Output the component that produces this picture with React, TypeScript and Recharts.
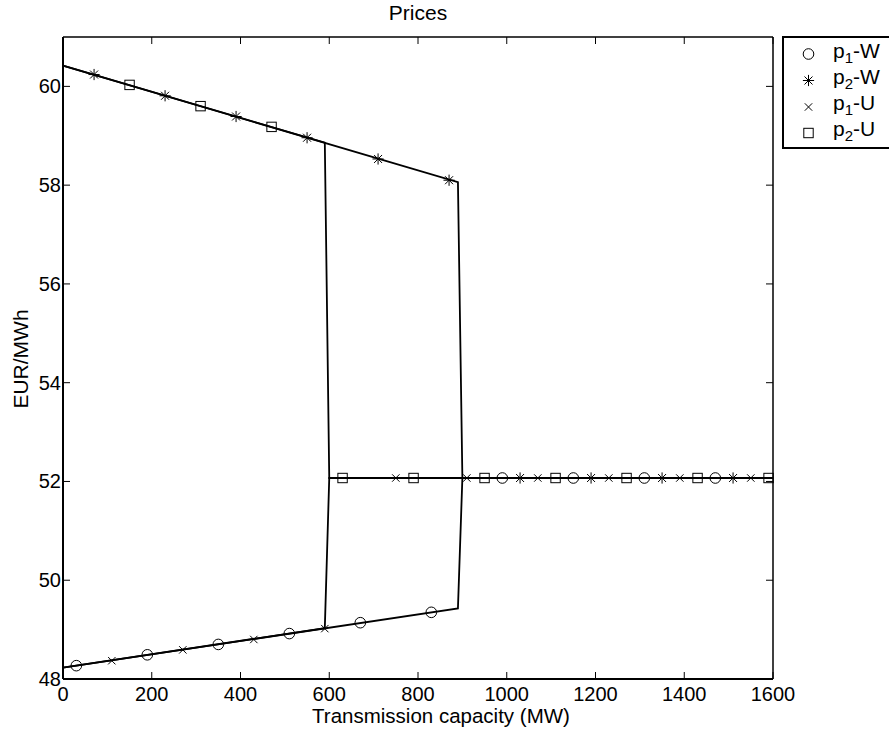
import React from "react";
import {
  ComposedChart,
  Line,
  Scatter,
  XAxis,
  YAxis,
  Legend,
  ReferenceLine,
} from "recharts";

const FONT = '"Liberation Sans", Arial, Helvetica, sans-serif';
const W = 889;
const H = 733;
const PLOT_LEFT = 63;
const PLOT_RIGHT = 773;
const PLOT_TOP = 37;
const PLOT_BOTTOM = 679;

const xTicks = [0, 200, 400, 600, 800, 1000, 1200, 1400, 1600];
const yTicks = [48, 50, 52, 54, 56, 58, 60];

// line vertices (MW, EUR/MWh)
const p1wLineX = [0, 890, 900, 1600];
const p1wLineY = [48.23, 49.43, 52.07, 52.07];
const p2wLineX = [0, 890, 900, 1600];
const p2wLineY = [60.42, 58.06, 52.07, 52.07];
const p1uLineX = [0, 590, 600, 1600];
const p1uLineY = [48.23, 49.03, 52.07, 52.07];
const p2uLineX = [0, 590, 600, 1600];
const p2uLineY = [60.42, 58.86, 52.07, 52.07];

// marker positions
const p1wMarkX = [30, 190, 350, 510, 670, 830, 990, 1150, 1310, 1470];
const p1wMarkY = [48.27, 48.49, 48.7, 48.92, 49.14, 49.35, 52.07, 52.07, 52.07, 52.07];
const p2wMarkX = [70, 230, 390, 550, 710, 870, 1030, 1190, 1350, 1510];
const p2wMarkY = [60.24, 59.81, 59.39, 58.96, 58.53, 58.1, 52.07, 52.07, 52.07, 52.07];
const p1uMarkX = [110, 270, 430, 590, 750, 910, 1070, 1230, 1390, 1550];
const p1uMarkY = [48.37, 48.59, 48.8, 49.02, 52.07, 52.07, 52.07, 52.07, 52.07, 52.07];
const p2uMarkX = [150, 310, 470, 630, 790, 950, 1110, 1270, 1430, 1590];
const p2uMarkY = [60.03, 59.6, 59.18, 52.07, 52.07, 52.07, 52.07, 52.07, 52.07, 52.07];

const zip = (xs: number[], ys: number[]) => xs.map((x, i) => ({ x, y: ys[i] }));

type MarkerKind = "circle" | "star" | "x" | "square";

function Marker({ kind, cx, cy }: { kind: MarkerKind; cx: number; cy: number }) {
  const s = { stroke: "#000", strokeWidth: 1, fill: "none" };
  if (kind === "circle") return <circle cx={cx} cy={cy} r={5.3} {...s} />;
  if (kind === "square") return <rect x={cx - 4.7} y={cy - 4.7} width={9.4} height={9.4} {...s} />;
  if (kind === "x") {
    const d = 3.7;
    return (
      <g {...s}>
        <line x1={cx - d} y1={cy - d} x2={cx + d} y2={cy + d} />
        <line x1={cx - d} y1={cy + d} x2={cx + d} y2={cy - d} />
      </g>
    );
  }
  const r = 5.6;
  const d = 4;
  return (
    <g {...s}>
      <line x1={cx} y1={cy - r} x2={cx} y2={cy + r} />
      <line x1={cx - r} y1={cy} x2={cx + r} y2={cy} />
      <line x1={cx - d} y1={cy - d} x2={cx + d} y2={cy + d} />
      <line x1={cx - d} y1={cy + d} x2={cx + d} y2={cy - d} />
    </g>
  );
}

const series: { name: string; sub: string; tail: string; kind: MarkerKind; line: { x: number; y: number }[]; marks: { x: number; y: number }[] }[] = [
  { name: "p1-W", sub: "1", tail: "-W", kind: "circle", line: zip(p1wLineX, p1wLineY), marks: zip(p1wMarkX, p1wMarkY) },
  { name: "p2-W", sub: "2", tail: "-W", kind: "star", line: zip(p2wLineX, p2wLineY), marks: zip(p2wMarkX, p2wMarkY) },
  { name: "p1-U", sub: "1", tail: "-U", kind: "x", line: zip(p1uLineX, p1uLineY), marks: zip(p1uMarkX, p1uMarkY) },
  { name: "p2-U", sub: "2", tail: "-U", kind: "square", line: zip(p2uLineX, p2uLineY), marks: zip(p2uMarkX, p2uMarkY) },
];

function XTick(props: any) {
  const { x, y, payload } = props;
  return (
    <g>
      <line x1={x} x2={x} y1={y} y2={y - 7} stroke="#000" strokeWidth={1} />
      <line x1={x} x2={x} y1={PLOT_TOP} y2={PLOT_TOP + 7} stroke="#000" strokeWidth={1} />
      <text x={x} y={y + 22} textAnchor="middle" fontSize={20} fontFamily={FONT} fill="#000">
        {payload.value}
      </text>
    </g>
  );
}

function YTick(props: any) {
  const { x, y, payload } = props;
  return (
    <g>
      <line x1={x} x2={x + 7} y1={y} y2={y} stroke="#000" strokeWidth={1} />
      <line x1={PLOT_RIGHT - 7} x2={PLOT_RIGHT} y1={y} y2={y} stroke="#000" strokeWidth={1} />
      <text x={x - 2} y={y + 7} textAnchor="end" fontSize={20} fontFamily={FONT} fill="#000">
        {payload.value}
      </text>
    </g>
  );
}

function LegendBox() {
  const rowsMarkerY = [16, 42.5, 69, 95];
  const rowsTextY = [19.5, 45.5, 72, 97.5];
  return (
    <div style={{ width: 180, height: 109, border: "2px solid #000", background: "#fff" }}>
      <svg width={180} height={109} style={{ display: "block" }}>
        {series.map((s, i) => (
          <g key={s.name}>
            <Marker kind={s.kind} cx={24.5} cy={rowsMarkerY[i]} />
            <text x={49} y={rowsTextY[i]} fontSize={21} fontFamily={FONT} fill="#000">
              p
              <tspan dy={5} fontSize={15}>{s.sub}</tspan>
              <tspan dy={-5}>{s.tail}</tspan>
            </text>
          </g>
        ))}
      </svg>
    </div>
  );
}

export default function App() {
  return (
    <div
      style={{
        position: "absolute",
        left: 0,
        top: 0,
        width: W,
        height: H,
        overflow: "hidden",
        background: "#fff",
        fontFamily: FONT,
      }}
    >
      <ComposedChart
        width={W}
        height={H}
        margin={{ top: PLOT_TOP, right: W - PLOT_RIGHT, bottom: H - PLOT_BOTTOM - 50, left: PLOT_LEFT - 50 }}
      >
        <XAxis
          dataKey="x"
          type="number"
          domain={[0, 1600]}
          ticks={xTicks}
          interval={0}
          height={50}
          tickSize={0}
          tickMargin={0}
          tickLine={false}
          tick={(p: any) => <XTick {...p} />}
          axisLine={{ stroke: "#000", strokeWidth: 2 }}
          label={() => (
            <text x={441} y={723} textAnchor="middle" fontSize={20.5} fontFamily={FONT} fill="#000">
              Transmission capacity (MW)
            </text>
          )}
        />
        <YAxis
          dataKey="y"
          type="number"
          domain={[48, 61]}
          ticks={yTicks}
          interval={0}
          width={50}
          tickSize={0}
          tickMargin={0}
          tickLine={false}
          tick={(p: any) => <YTick {...p} />}
          axisLine={{ stroke: "#000", strokeWidth: 2 }}
          label={() => (
            <text
              transform="translate(28, 359) rotate(-90)"
              textAnchor="middle"
              fontSize={21}
              fontFamily={FONT}
              fill="#000"
            >
              EUR/MWh
            </text>
          )}
        />
        <ReferenceLine y={61} stroke="#000" strokeWidth={1.5} />
        <ReferenceLine x={1600} stroke="#000" strokeWidth={1.5} />
        {series.map((s) => (
          <Line
            key={`l-${s.name}`}
            data={s.line}
            dataKey="y"
            type="linear"
            stroke="#000"
            strokeWidth={1.8}
            dot={false}
            activeDot={false}
            legendType="none"
            isAnimationActive={false}
          />
        ))}
        {series.map((s) => (
          <Scatter
            key={`m-${s.name}`}
            name={s.name}
            data={s.marks}
            dataKey="y"
            shape={(p: any) => <Marker kind={s.kind} cx={p.cx} cy={p.cy} />}
            isAnimationActive={false}
          />
        ))}
        <Legend
          layout="vertical"
          align="center"
          verticalAlign="middle"
          content={() => <LegendBox />}
          wrapperStyle={{ position: "absolute", left: 782, top: 36, width: 184, height: 113 }}
        />
      </ComposedChart>
      <svg
        width={W}
        height={30}
        style={{ position: "absolute", left: 0, top: 0, zIndex: 2, pointerEvents: "none" }}
      >
        <text x={(PLOT_LEFT + PLOT_RIGHT) / 2} y={20} textAnchor="middle" fontSize={21} fontFamily={FONT} fill="#000">
          Prices
        </text>
      </svg>
    </div>
  );
}
